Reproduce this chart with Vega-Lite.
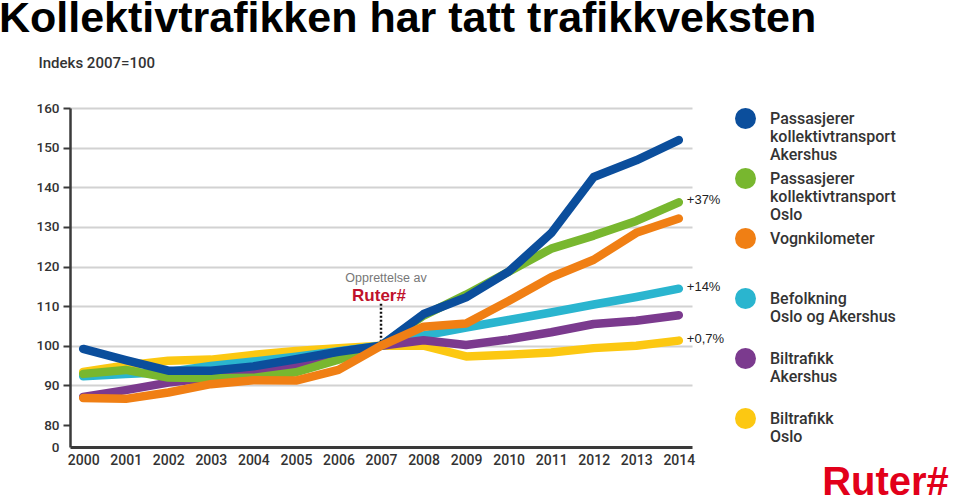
{
  "$schema": "https://vega.github.io/schema/vega-lite/v6.json",
  "width": 622,
  "height": 339,
  "autosize": {"type": "none"},
  "padding": {"left": 70, "top": 108, "right": 268, "bottom": 55},
  "background": "white",
  "config": {"view": {"stroke": null}, "font": "Roboto"},
  "title": {
    "text": "Kollektivtrafikken har tatt trafikkveksten",
    "anchor": "start",
    "frame": "bounds",
    "font": "Liberation Sans",
    "fontSize": 43,
    "fontWeight": "bold",
    "color": "#000000",
    "dx": -37,
    "offset": 14
  },
  "data": {
    "values": [
      {"series": "Biltrafikk Oslo", "year": 2000, "value": 93.4},
      {"series": "Biltrafikk Oslo", "year": 2001, "value": 95.0},
      {"series": "Biltrafikk Oslo", "year": 2002, "value": 96.2},
      {"series": "Biltrafikk Oslo", "year": 2003, "value": 96.5},
      {"series": "Biltrafikk Oslo", "year": 2004, "value": 97.7},
      {"series": "Biltrafikk Oslo", "year": 2005, "value": 98.7},
      {"series": "Biltrafikk Oslo", "year": 2006, "value": 99.4},
      {"series": "Biltrafikk Oslo", "year": 2007, "value": 100.0},
      {"series": "Biltrafikk Oslo", "year": 2008, "value": 100.0},
      {"series": "Biltrafikk Oslo", "year": 2009, "value": 97.3},
      {"series": "Biltrafikk Oslo", "year": 2010, "value": 97.7},
      {"series": "Biltrafikk Oslo", "year": 2011, "value": 98.3},
      {"series": "Biltrafikk Oslo", "year": 2012, "value": 99.4},
      {"series": "Biltrafikk Oslo", "year": 2013, "value": 100.0},
      {"series": "Biltrafikk Oslo", "year": 2014, "value": 101.3, "label": "+0,7%"},
      {"series": "Befolkning Oslo og Akershus", "year": 2000, "value": 92.3},
      {"series": "Befolkning Oslo og Akershus", "year": 2001, "value": 92.9},
      {"series": "Befolkning Oslo og Akershus", "year": 2002, "value": 93.4},
      {"series": "Befolkning Oslo og Akershus", "year": 2003, "value": 94.9},
      {"series": "Befolkning Oslo og Akershus", "year": 2004, "value": 96.0},
      {"series": "Befolkning Oslo og Akershus", "year": 2005, "value": 97.2},
      {"series": "Befolkning Oslo og Akershus", "year": 2006, "value": 98.6},
      {"series": "Befolkning Oslo og Akershus", "year": 2007, "value": 100.0},
      {"series": "Befolkning Oslo og Akershus", "year": 2008, "value": 102.6},
      {"series": "Befolkning Oslo og Akershus", "year": 2009, "value": 104.6},
      {"series": "Befolkning Oslo og Akershus", "year": 2010, "value": 106.5},
      {"series": "Befolkning Oslo og Akershus", "year": 2011, "value": 108.4},
      {"series": "Befolkning Oslo og Akershus", "year": 2012, "value": 110.4},
      {"series": "Befolkning Oslo og Akershus", "year": 2013, "value": 112.3},
      {"series": "Befolkning Oslo og Akershus", "year": 2014, "value": 114.4, "label": "+14%"},
      {"series": "Biltrafikk Akershus", "year": 2000, "value": 87.1},
      {"series": "Biltrafikk Akershus", "year": 2001, "value": 88.8},
      {"series": "Biltrafikk Akershus", "year": 2002, "value": 90.7},
      {"series": "Biltrafikk Akershus", "year": 2003, "value": 91.9},
      {"series": "Biltrafikk Akershus", "year": 2004, "value": 93.1},
      {"series": "Biltrafikk Akershus", "year": 2005, "value": 95.3},
      {"series": "Biltrafikk Akershus", "year": 2006, "value": 97.0},
      {"series": "Biltrafikk Akershus", "year": 2007, "value": 100.0},
      {"series": "Biltrafikk Akershus", "year": 2008, "value": 101.4},
      {"series": "Biltrafikk Akershus", "year": 2009, "value": 100.2},
      {"series": "Biltrafikk Akershus", "year": 2010, "value": 101.6},
      {"series": "Biltrafikk Akershus", "year": 2011, "value": 103.4},
      {"series": "Biltrafikk Akershus", "year": 2012, "value": 105.5},
      {"series": "Biltrafikk Akershus", "year": 2013, "value": 106.3},
      {"series": "Biltrafikk Akershus", "year": 2014, "value": 107.7},
      {"series": "Passasjerer kollektivtransport Oslo", "year": 2000, "value": 92.9},
      {"series": "Passasjerer kollektivtransport Oslo", "year": 2001, "value": 93.9},
      {"series": "Passasjerer kollektivtransport Oslo", "year": 2002, "value": 92.0},
      {"series": "Passasjerer kollektivtransport Oslo", "year": 2003, "value": 91.8},
      {"series": "Passasjerer kollektivtransport Oslo", "year": 2004, "value": 91.9},
      {"series": "Passasjerer kollektivtransport Oslo", "year": 2005, "value": 93.3},
      {"series": "Passasjerer kollektivtransport Oslo", "year": 2006, "value": 96.5},
      {"series": "Passasjerer kollektivtransport Oslo", "year": 2007, "value": 100.0},
      {"series": "Passasjerer kollektivtransport Oslo", "year": 2008, "value": 107.6},
      {"series": "Passasjerer kollektivtransport Oslo", "year": 2009, "value": 112.9},
      {"series": "Passasjerer kollektivtransport Oslo", "year": 2010, "value": 118.7},
      {"series": "Passasjerer kollektivtransport Oslo", "year": 2011, "value": 124.5},
      {"series": "Passasjerer kollektivtransport Oslo", "year": 2012, "value": 127.8},
      {"series": "Passasjerer kollektivtransport Oslo", "year": 2013, "value": 131.5},
      {"series": "Passasjerer kollektivtransport Oslo", "year": 2014, "value": 136.2, "label": "+37%"},
      {"series": "Passasjerer kollektivtransport Akershus", "year": 2000, "value": 99.2},
      {"series": "Passasjerer kollektivtransport Akershus", "year": 2001, "value": 96.4},
      {"series": "Passasjerer kollektivtransport Akershus", "year": 2002, "value": 93.7},
      {"series": "Passasjerer kollektivtransport Akershus", "year": 2003, "value": 93.7},
      {"series": "Passasjerer kollektivtransport Akershus", "year": 2004, "value": 94.8},
      {"series": "Passasjerer kollektivtransport Akershus", "year": 2005, "value": 96.6},
      {"series": "Passasjerer kollektivtransport Akershus", "year": 2006, "value": 98.5},
      {"series": "Passasjerer kollektivtransport Akershus", "year": 2007, "value": 100.0},
      {"series": "Passasjerer kollektivtransport Akershus", "year": 2008, "value": 108.0},
      {"series": "Passasjerer kollektivtransport Akershus", "year": 2009, "value": 112.2},
      {"series": "Passasjerer kollektivtransport Akershus", "year": 2010, "value": 118.7},
      {"series": "Passasjerer kollektivtransport Akershus", "year": 2011, "value": 128.4},
      {"series": "Passasjerer kollektivtransport Akershus", "year": 2012, "value": 142.6},
      {"series": "Passasjerer kollektivtransport Akershus", "year": 2013, "value": 146.8},
      {"series": "Passasjerer kollektivtransport Akershus", "year": 2014, "value": 151.9},
      {"series": "Vognkilometer", "year": 2000, "value": 86.8},
      {"series": "Vognkilometer", "year": 2001, "value": 86.6},
      {"series": "Vognkilometer", "year": 2002, "value": 88.2},
      {"series": "Vognkilometer", "year": 2003, "value": 90.3},
      {"series": "Vognkilometer", "year": 2004, "value": 91.3},
      {"series": "Vognkilometer", "year": 2005, "value": 91.2},
      {"series": "Vognkilometer", "year": 2006, "value": 93.9},
      {"series": "Vognkilometer", "year": 2007, "value": 100.0, "note": "Opprettelse av", "brand": "Ruter#"},
      {"series": "Vognkilometer", "year": 2008, "value": 104.8},
      {"series": "Vognkilometer", "year": 2009, "value": 105.6},
      {"series": "Vognkilometer", "year": 2010, "value": 111.3},
      {"series": "Vognkilometer", "year": 2011, "value": 117.3},
      {"series": "Vognkilometer", "year": 2012, "value": 121.7},
      {"series": "Vognkilometer", "year": 2013, "value": 128.5},
      {"series": "Vognkilometer", "year": 2014, "value": 132.1}
    ]
  },
  "encoding": {
    "x": {
      "field": "year",
      "type": "ordinal",
      "scale": {"type": "point", "padding": 0.31},
      "axis": {
        "labelAngle": 0,
        "ticks": false,
        "grid": false,
        "domainColor": "#3a3a3a",
        "domainWidth": 3,
        "labelFont": "Roboto",
        "labelFontSize": 14,
        "labelFontWeight": 500,
        "labelColor": "#333333",
        "labelPadding": 6,
        "title": "Ruter#",
        "titleX": 815,
        "titleY": 47,
        "titleAlign": "center",
        "titleBaseline": "alphabetic",
        "titleFont": "Liberation Sans",
        "titleFontSize": 40,
        "titleFontWeight": "bold",
        "titleColor": "#e2001a"
      }
    },
    "y": {
      "field": "value",
      "type": "quantitative",
      "scale": {"domain": [0, 80, 160], "range": [339, 317, 0], "zero": false, "nice": false},
      "axis": {
        "values": [0, 80, 90, 100, 110, 120, 130, 140, 150, 160],
        "grid": true,
        "gridColor": "#d2d2d2",
        "gridWidth": 2,
        "gridOpacity": {"condition": {"test": "datum.value < 85", "value": 0}, "value": 1},
        "domainColor": "#3a3a3a",
        "domainWidth": 2.5,
        "tickColor": "#3a3a3a",
        "tickWidth": 2,
        "tickSize": 7,
        "tickOpacity": {"condition": {"test": "datum.value < 5", "value": 0}, "value": 1},
        "labelFont": "Roboto",
        "labelFontSize": 13.5,
        "labelFontWeight": 500,
        "labelColor": "#333333",
        "labelPadding": 4,
        "title": "Indeks 2007=100",
        "titleAngle": 0,
        "titleX": -32,
        "titleY": -46,
        "titleAlign": "left",
        "titleBaseline": "middle",
        "titleFont": "Roboto",
        "titleFontSize": 15,
        "titleFontWeight": 500,
        "titleColor": "#333333"
      }
    }
  },
  "layer": [
    {
      "transform": [{"filter": "isValid(datum.note)"}],
      "mark": {"type": "rule", "strokeDash": [2, 2], "strokeWidth": 2.5, "color": "#111111"},
      "encoding": {
        "y": {"datum": 100},
        "y2": {"datum": 111.0}
      }
    },
    {
      "transform": [{"filter": "isValid(datum.note)"}],
      "mark": {"type": "text", "font": "Liberation Sans", "fontSize": 12.5, "color": "#777777", "align": "center", "baseline": "middle", "dx": 5},
      "encoding": {
        "y": {"datum": 117.2},
        "text": {"field": "note"}
      }
    },
    {
      "transform": [{"filter": "isValid(datum.brand)"}],
      "mark": {"type": "text", "font": "Liberation Sans", "fontSize": 17, "fontWeight": "bold", "color": "#c0112b", "align": "center", "baseline": "middle", "dx": -2},
      "encoding": {
        "y": {"datum": 112.5},
        "text": {"field": "brand"}
      }
    },
    {
      "mark": {"type": "line", "strokeWidth": 8.5, "strokeCap": "round", "strokeJoin": "round"},
      "encoding": {
        "color": {
          "field": "series",
          "type": "nominal",
          "scale": {
            "domain": [
              "Passasjerer kollektivtransport Akershus",
              "Passasjerer kollektivtransport Oslo",
              "Vognkilometer",
              "Befolkning Oslo og Akershus",
              "Biltrafikk Akershus",
              "Biltrafikk Oslo"
            ],
            "range": ["#0b4e9c", "#78b72f", "#f07f14", "#2ab5cf", "#7b3a8e", "#fcc812"]
          },
          "legend": {
            "title": null,
            "orient": "right",
            "offset": 43,
            "padding": 0,
            "symbolType": "circle",
            "symbolSize": 441,
            "symbolStrokeWidth": 0,
            "labelFont": "Roboto",
            "labelFontSize": 16,
            "labelFontWeight": 500,
            "labelColor": "#333333",
            "labelOffset": 14,
            "labelLimit": 300,
            "labelBaseline": "middle",
            "gridAlign": "all",
            "rowPadding": 5,
            "labelExpr": "datum.label == 'Befolkning Oslo og Akershus' ? ['Befolkning', 'Oslo og Akershus'] : split(datum.label, ' ')",
            "encode": {"symbols": {"update": {"fill": {"scale": "color", "field": "value"}, "opacity": {"value": 1}}}}
          }
        }
      }
    },
    {
      "transform": [{"filter": "isValid(datum.label)"}],
      "mark": {"type": "text", "font": "Liberation Sans", "fontSize": 13, "color": "#222222", "align": "left", "baseline": "middle", "dx": 8, "dy": -2},
      "encoding": {
        "text": {"field": "label"}
      }
    }
  ]
}
